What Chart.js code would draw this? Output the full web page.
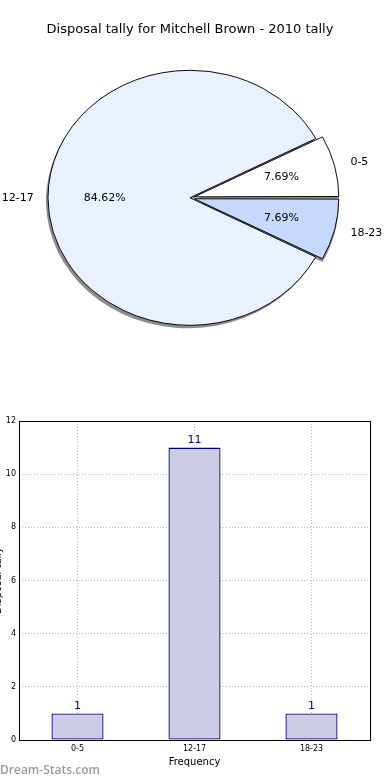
<!DOCTYPE html>
<html>
<head>
<meta charset="utf-8">
<script src="https://cdn.jsdelivr.net/npm/chart.js@4.4.1/dist/chart.umd.min.js"></script>
<style>
  html, body { margin: 0; padding: 0; background: #fff; }
  #wrap { position: relative; width: 390px; height: 780px; overflow: hidden; }
  #pie { position: absolute; left: 0; top: 0; }
  #bar { position: absolute; left: -8px; top: 400px; }
  #mark { position: absolute; left: 0; top: 761px; font: 600 12px "Open Sans", sans-serif; color: #9a9a9a; }
</style>
</head>
<body>
<div id="wrap">
  <canvas id="pie" width="390" height="390"></canvas>
  <canvas id="bar" width="398" height="380"></canvas>
  <div id="mark">Dream-Stats.com</div>
</div>
<script>
var categories = ['0-5', '12-17', '18-23'];
var tally = [1, 11, 1];
var percents = ['7.69%', '84.62%', '7.69%'];
var pieColors = ['#ffffff', '#eaf1fe', '#c5d9fe'];
var explode = [9, 0, 9];
var yTicks = [0, 2, 4, 6, 8, 10, 12];

var font = '"DejaVu Sans", sans-serif';
var squash = 0.898;

// matplotlib draws counter-clockwise from 3 o'clock, chart.js clockwise -> reverse
var pieLabels = categories.slice().reverse();
var pieData = tally.slice().reverse();
var piePct = percents.slice().reverse();
var pieFill = pieColors.slice().reverse();
var pieExplode = explode.slice().reverse();

var pieLook = {
  id: 'pieLook',
  beforeDatasetsDraw: function (chart) {
    var ctx = chart.ctx, a = chart.chartArea;
    var cx = (a.left + a.right) / 2, cy = (a.top + a.bottom) / 2;
    ctx.save();
    ctx.translate(cx, cy);
    ctx.scale(1, squash);
    ctx.translate(-cx, -cy);
    // shadows first, under every wedge
    ctx.fillStyle = '#8c8c8c';
    chart.getDatasetMeta(0).data.forEach(function (arc, i) {
      var p = arc.getProps(['x', 'y', 'startAngle', 'endAngle', 'outerRadius'], true);
      var mid = (p.startAngle + p.endAngle) / 2;
      var x = p.x + Math.cos(mid) * pieExplode[i] - 2;
      var y = p.y + Math.sin(mid) * pieExplode[i] + 3 / squash;
      ctx.beginPath();
      ctx.moveTo(x, y);
      ctx.arc(x, y, p.outerRadius, p.startAngle, p.endAngle);
      ctx.closePath();
      ctx.fill();
    });
  },
  afterDatasetsDraw: function (chart) {
    var ctx = chart.ctx;
    ctx.restore();
    var a = chart.chartArea;
    var cy = (a.top + a.bottom) / 2;
    ctx.save();
    ctx.fillStyle = '#000';
    ctx.font = '11px ' + font;
    ctx.textBaseline = 'middle';
    chart.getDatasetMeta(0).data.forEach(function (arc, i) {
      var p = arc.getProps(['x', 'y', 'startAngle', 'endAngle', 'outerRadius'], true);
      var mid = (p.startAngle + p.endAngle) / 2;
      var off = pieExplode[i];
      var r = p.outerRadius;
      var c = Math.cos(mid), s = Math.sin(mid);
      ctx.textAlign = 'center';
      ctx.fillText(piePct[i], p.x + c * (0.6 * r + off), cy + s * (0.6 * r + off) * squash);
      var lx = p.x + c * (1.1 * r + off);
      var ly = cy + s * (1.1 * r + off) * squash;
      ctx.textAlign = c > 0.01 ? 'left' : (c < -0.01 ? 'right' : 'center');
      ctx.fillText(pieLabels[i], lx, ly);
    });
    ctx.restore();
  }
};

new Chart(document.getElementById('pie').getContext('2d'), {
  type: 'pie',
  data: {
    labels: pieLabels,
    datasets: [{
      data: pieData,
      backgroundColor: pieFill,
      borderColor: '#000',
      borderWidth: 1,
      offset: pieExplode.map(function (v) { return v * 2; }),
      radius: 142
    }]
  },
  options: {
    responsive: false,
    animation: false,
    rotation: 90,
    layout: { padding: { left: 0, right: 10, top: 0, bottom: 42 } },
    plugins: {
      legend: { display: false },
      tooltip: { enabled: false },
      title: {
        display: true,
        text: 'Disposal tally for Mitchell Brown - 2010 tally',
        color: '#000',
        font: { family: font, size: 13, weight: 'normal' },
        padding: { top: 22, bottom: 10 }
      }
    }
  },
  plugins: [pieLook]
});

var barExtras = {
  id: 'barExtras',
  afterDatasetsDraw: function (chart) {
    var ctx = chart.ctx, a = chart.chartArea;
    ctx.save();
    ctx.strokeStyle = '#000';
    ctx.lineWidth = 1;
    ctx.strokeRect(Math.round(a.left) + 0.5, Math.round(a.top) + 0.5,
      Math.round(a.right - a.left), Math.round(a.bottom - a.top));
    ctx.fillStyle = '#000080';
    ctx.font = '11px ' + font;
    ctx.textAlign = 'center';
    ctx.textBaseline = 'bottom';
    chart.getDatasetMeta(0).data.forEach(function (bar, i) {
      ctx.fillText(String(tally[i]), bar.x, bar.y - 2);
    });
    ctx.restore();
  }
};

new Chart(document.getElementById('bar').getContext('2d'), {
  type: 'bar',
  data: {
    labels: categories,
    datasets: [{
      data: tally,
      backgroundColor: '#ccccE4',
      borderColor: '#000080',
      borderWidth: 1.3,
      borderSkipped: false,
      barPercentage: 0.445,
      categoryPercentage: 1
    }]
  },
  options: {
    responsive: false,
    animation: false,
    layout: { padding: { left: 0, right: 20, top: 21, bottom: 0 } },
    plugins: { legend: { display: false }, tooltip: { enabled: false } },
    scales: {
      x: {
        grid: { offset: false, color: '#b8b8b8', drawTicks: false },
        border: { display: false, dash: [1, 2] },
        ticks: { color: '#000', font: { family: font, size: 8 }, padding: 4 },
        title: { display: true, text: 'Frequency', color: '#000', font: { family: font, size: 10 }, padding: { top: 0, bottom: 12 } },
        afterFit: function (s) { s.height = 40; }
      },
      y: {
        min: 0,
        max: 12,
        afterBuildTicks: function (s) { s.ticks = yTicks.map(function (v) { return { value: v }; }); },
        grid: { color: '#b8b8b8', drawTicks: false },
        border: { display: false, dash: [1, 2] },
        ticks: { color: '#000', font: { family: font, size: 8 }, padding: 3 },
        title: { display: true, text: 'Disposal tally', color: '#000', font: { family: font, size: 10 }, padding: 0 },
        afterFit: function (s) { s.width = 27; }
      }
    }
  },
  plugins: [barExtras]
});
</script>
</body>
</html>
